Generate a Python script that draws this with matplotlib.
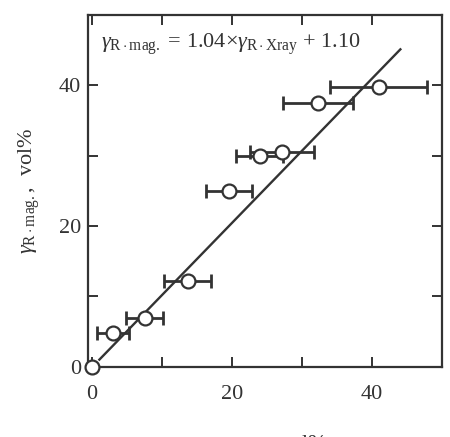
import matplotlib
matplotlib.use("Agg")
import matplotlib.pyplot as plt

plt.rcParams['font.family'] = ['Liberation Serif', 'DejaVu Serif']
plt.rcParams['mathtext.fontset'] = 'custom'
plt.rcParams['mathtext.rm'] = 'Liberation Serif'
plt.rcParams['mathtext.it'] = 'Liberation Serif:italic'
plt.rcParams['mathtext.bf'] = 'Liberation Serif:bold'

# data
x_xray = [0.0, 3.1, 7.6, 13.7, 19.6, 24.0, 27.2, 32.4, 41.0]
y_mag = [0.0, 4.75, 6.9, 12.2, 24.9, 29.9, 30.5, 37.5, 39.8]
x_err = [0.0, 2.3, 2.65, 3.4, 3.3, 3.4, 4.6, 5.0, 6.9]
fit_x = [1.1, 44.1]
fit_y = [1.0, 45.1]
x_ticks = [0, 10, 20, 30, 40]
x_ticklabels = ['0', '', '20', '', '40']
y_ticks = [0, 10, 20, 30, 40]
y_ticklabels = ['0', '', '20', '', '40']

ink = '#333333'
fig = plt.figure(figsize=(4.5, 4.37), dpi=100)
ax = fig.add_axes([0.196, 0.161, 0.7855, 0.805])

ax.plot(fit_x, fit_y, color=ink, lw=1.7, zorder=2)
ax.errorbar(x_xray[1:], y_mag[1:], xerr=x_err[1:], fmt='none', ecolor=ink,
            elinewidth=2.0, capsize=5, capthick=2.0, zorder=3)
ax.plot(x_xray, y_mag, 'o', ms=10, mfc='white', mec=ink, mew=1.6,
        zorder=5, clip_on=False)

ax.set_xlim(-0.5, 50)
ax.set_ylim(0, 50)
ax.set_xticks(x_ticks)
ax.set_xticklabels(x_ticklabels)
ax.set_yticks(y_ticks)
ax.set_yticklabels(y_ticklabels)
ax.tick_params(direction='in', length=7, width=1.4, color=ink,
               top=True, right=True, labelsize=16, labelcolor=ink)
ax.tick_params(axis='x', pad=13)
ax.tick_params(axis='y', pad=5)
for s in ax.spines.values():
    s.set_color(ink)
    s.set_linewidth(1.6)

ax.text(1.3, 45.3,
        r'$\gamma_{\mathrm{R\cdot mag.}}$ = 1.04$\times\gamma_{\mathrm{R\cdot Xray}}$ + 1.10',
        fontsize=16, color=ink, va='baseline', ha='left')

ax.set_ylabel(r'$\gamma_{\mathrm{R\cdot mag.}}$,  vol%', fontsize=16, color=ink, labelpad=12)
fig.text(0.59, -0.03, r'$\gamma_{\mathrm{R\cdot Xray}}$,  vol%', fontsize=16,
         color=ink, ha='center', va='baseline')

fig.savefig('out.png', dpi=100)
